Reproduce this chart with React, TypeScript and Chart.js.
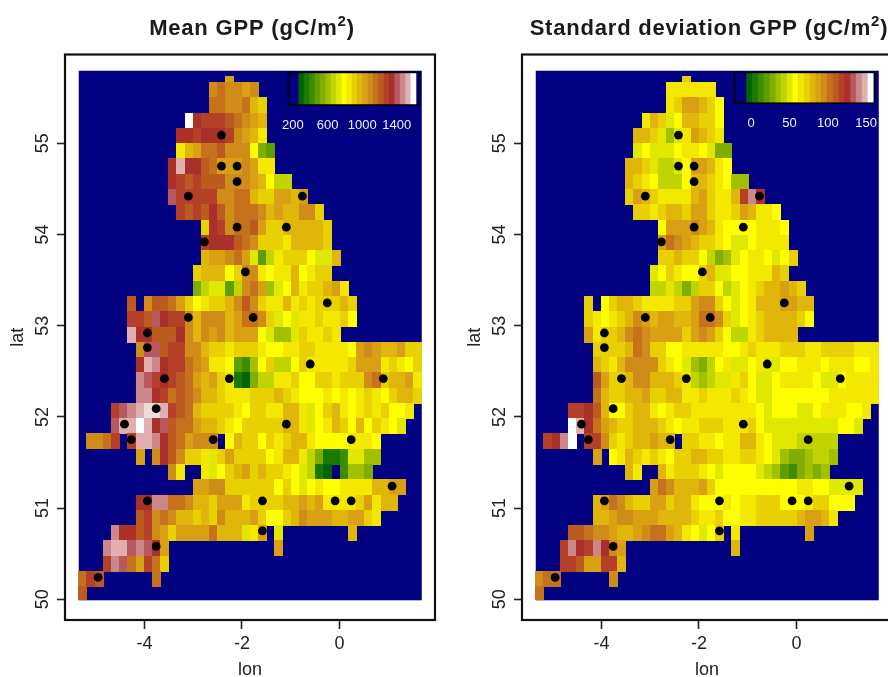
import React, { useEffect, useRef } from "react";
import { Chart, registerables } from "chart.js";

Chart.register(...registerables);

// Colour classes of the legend bar: 0 = sea, 1..22 = low to high, 23 = the pale tint between classes 21 and 22
const palette = [
  "#000080", "#006400", "#1a7a00", "#3d8c00", "#5f9e00", "#80ad00", "#a0c000", "#c0d400", "#e0e800",
  "#ffff00", "#f5e800", "#e9d000", "#e0b60a", "#d8a012", "#cf8c18", "#c6721c", "#bd5a20", "#b44028",
  "#aa302a", "#b85860", "#cc8888", "#e0b0b0", "#ffffff", "#eedcdc",
];
const LEGEND_BANDS = 22;

// [row, first column, classes]
const meanGrid: [number, number, number[]][] = [
  [0, 18, [13]],
  [1, 16, [14, 15, 14, 14, 13, 14]],
  [2, 16, [15, 15, 14, 14, 15, 12, 11]],
  [3, 13, [22, 18, 17, 17, 17, 16, 15, 14, 13, 12]],
  [4, 12, [18, 18, 17, 18, 18, 18, 17, 14, 13, 12, 10]],
  [5, 12, [10, 12, 13, 15, 15, 16, 14, 14, 14, 9, 5, 4]],
  [6, 11, [18, 21, 18, 18, 16, 15, 13, 13, 13, 14, 13, 10, 10]],
  [7, 11, [18, 17, 16, 17, 16, 16, 16, 14, 14, 14, 13, 12, 9, 7, 7]],
  [8, 11, [19, 17, 17, 17, 17, 17, 14, 14, 15, 15, 12, 11, 11, 13, 13, 12, 13]],
  [9, 12, [17, 16, 17, 16, 18, 16, 14, 15, 15, 15, 14, 12, 13, 12, 12, 14, 14, 11]],
  [10, 15, [11, 18, 17, 14, 15, 15, 16, 13, 11, 11, 12, 12, 12, 12, 12, 11]],
  [11, 15, [17, 18, 18, 18, 16, 15, 14, 11, 11, 11, 10, 12, 12, 12, 12, 11]],
  [12, 15, [12, 13, 13, 14, 15, 13, 8, 4, 7, 10, 11, 11, 11, 9, 8, 8, 12]],
  [13, 14, [11, 12, 12, 12, 9, 11, 14, 14, 10, 9, 10, 10, 12, 9, 10, 11, 11]],
  [14, 14, [5, 7, 8, 8, 4, 7, 14, 15, 13, 6, 8, 9, 12, 10, 11, 11, 12, 13, 10]],
  [15, 6, [16]],
  [15, 8, [14, 16, 16, 15, 13, 11, 9, 10, 11, 11, 12, 14, 16, 14, 11, 10, 10, 12, 10, 11, 10, 11, 11, 11, 12, 11]],
  [16, 6, [17, 17, 16, 19, 18, 17, 17, 14, 12, 14, 14, 14, 12, 13, 15, 15, 14, 11, 8, 9, 8, 10, 10, 11, 10, 10, 11, 9]],
  [17, 6, [21, 18, 18, 16, 16, 16, 18, 14, 12, 14, 13, 14, 12, 13, 13, 13, 9, 8, 6, 6, 8, 11, 10, 10, 11, 10]],
  [18, 7, [14, 19, 19, 16, 17, 17, 14, 14, 12, 11, 11, 10, 11, 11, 11, 10, 9, 9, 10, 10, 11, 11, 10, 10, 10, 10, 9, 13, 14, 13, 12, 12, 13, 11, 11]],
  [19, 7, [18, 21, 20, 18, 17, 17, 15, 14, 13, 10, 10, 9, 4, 3, 6, 9, 11, 7, 7, 9, 11, 10, 10, 10, 10, 10, 11, 13, 13, 13, 10, 11, 10, 9, 11]],
  [20, 7, [20, 19, 17, 18, 17, 16, 15, 13, 12, 13, 11, 10, 2, 1, 5, 7, 7, 10, 10, 11, 9, 9, 11, 11, 10, 11, 11, 11, 14, 15, 11, 12, 12, 13, 10]],
  [21, 7, [20, 20, 18, 17, 15, 16, 15, 14, 12, 12, 11, 10, 10, 10, 11, 11, 11, 12, 11, 10, 9, 9, 9, 10, 9, 10, 9, 10, 11, 10, 9, 11, 12, 12, 11]],
  [22, 4, [17, 19, 20, 21, 23, 23, 21, 17, 16, 15, 12, 11, 11, 11, 11, 10, 9, 11, 11, 10, 10, 12, 12, 10, 8, 9, 11, 12, 10, 9, 10, 11, 10, 11, 9, 9, 10]],
  [23, 4, [19, 21, 21, 22, 21, 18, 19, 16, 15, 15, 13, 12, 12, 11, 10, 9, 11, 11, 11, 11, 11, 12, 12, 10, 8, 9, 10, 12, 11, 9, 12, 9, 11, 10, 9, 8]],
  [24, 1, [14, 14, 15, 17]],
  [24, 6, [17, 21, 21, 20, 18, 16, 15, 13, 14, 14, 14]],
  [24, 18, [9, 12, 11, 11, 9, 11, 10, 11, 12, 12, 10, 9, 9, 9, 9, 10, 10, 10, 9]],
  [25, 7, [13]],
  [25, 9, [14, 18, 16, 14, 11, 11, 10, 8, 11, 13, 11, 11, 11, 11, 9, 10, 12, 12, 10, 7, 5, 2, 2, 3, 8, 8, 6, 6]],
  [26, 11, [14, 10]],
  [26, 15, [10, 8, 9, 11, 12, 13, 11, 12, 11, 11, 10, 9, 8, 7, 2, 1]],
  [26, 32, [3, 6, 6, 5]],
  [27, 14, [13, 13, 14, 14, 11, 11, 11, 11, 11, 11, 9, 11, 9, 8, 9, 10, 9, 9, 10, 10, 10, 10, 12, 12, 13, 13]],
  [28, 7, [18, 18, 20, 20, 15, 15, 14, 12, 12, 11, 13, 13, 13, 10, 11, 11, 11, 11, 12, 12, 13, 12, 13, 10, 10, 10, 10, 11, 13, 10, 12, 12]],
  [29, 7, [16, 17, 14, 15, 14, 12, 12, 11, 12, 11, 14, 12, 12, 12, 13, 11, 9, 9, 11, 12, 14, 13, 13, 13, 12, 12, 13, 13, 11, 10]],
  [30, 4, [20, 18, 18, 16, 17, 14, 13, 11, 13, 13, 13, 13, 15, 12, 12, 12, 8, 10, 13]],
  [30, 24, [8]],
  [30, 33, [12]],
  [31, 3, [20, 21, 21, 19, 20, 19, 18, 13]],
  [31, 24, [13]],
  [32, 3, [17, 20, 19, 15, 13, 17, 15, 11]],
  [33, 0, [15, 17, 16]],
  [33, 9, [15]],
  [34, 0, [16]],
];

const sdGrid: [number, number, number[]][] = [
  [0, 18, [11]],
  [1, 16, [10, 10, 10, 10, 10, 10]],
  [2, 16, [10, 11, 13, 13, 12, 11, 9]],
  [3, 13, [10, 12, 11, 8, 9, 12, 12, 11, 11, 9]],
  [4, 12, [12, 12, 11, 8, 6, 8, 10, 13, 12, 11, 10]],
  [5, 12, [8, 9, 8, 8, 8, 9, 10, 10, 9, 8, 5, 5]],
  [6, 11, [12, 12, 11, 8, 7, 7, 8, 9, 13, 13, 12, 10, 9]],
  [7, 11, [12, 11, 10, 9, 7, 7, 7, 9, 12, 12, 11, 10, 9, 6, 6]],
  [8, 11, [11, 13, 12, 11, 10, 10, 10, 10, 12, 13, 11, 10, 10, 12, 17, 20, 18]],
  [9, 12, [11, 11, 10, 11, 12, 12, 11, 13, 13, 11, 10, 10, 11, 13, 12, 10, 10, 9]],
  [10, 15, [9, 13, 13, 13, 14, 13, 12, 10, 9, 9, 9, 9, 10, 10, 10, 9]],
  [11, 15, [13, 15, 14, 13, 12, 11, 11, 10, 9, 8, 8, 9, 10, 10, 10, 10]],
  [12, 15, [11, 11, 12, 11, 11, 9, 7, 5, 6, 8, 9, 10, 10, 9, 8, 9, 11]],
  [13, 14, [8, 9, 11, 10, 9, 9, 11, 12, 8, 8, 9, 9, 10, 10, 10, 12, 11]],
  [14, 14, [7, 7, 8, 7, 5, 7, 11, 11, 9, 7, 8, 9, 10, 11, 12, 12, 13, 12, 11]],
  [15, 6, [11]],
  [15, 8, [9, 11, 12, 12, 11, 10, 10, 10, 10, 11, 11, 13, 14, 14, 11, 9, 8, 9, 10, 12, 12, 12, 13, 13, 12, 12]],
  [16, 6, [11, 10, 9, 10, 11, 12, 14, 13, 12, 13, 13, 12, 12, 13, 15, 15, 14, 11, 8, 9, 10, 11, 12, 12, 12, 12, 11, 9]],
  [17, 6, [13, 10, 11, 11, 12, 14, 15, 14, 13, 13, 13, 13, 11, 13, 14, 13, 11, 9, 7, 7, 10, 11, 12, 12, 12, 12]],
  [18, 7, [11, 11, 11, 11, 12, 15, 14, 11, 11, 9, 9, 10, 10, 10, 10, 10, 9, 9, 10, 11, 10, 10, 10, 11, 11, 11, 10, 10, 11, 11, 11, 11, 10, 10, 10]],
  [19, 7, [12, 11, 10, 12, 14, 14, 14, 14, 11, 10, 9, 8, 6, 5, 7, 9, 10, 8, 8, 9, 10, 8, 8, 9, 9, 10, 10, 10, 9, 10, 10, 10, 9, 9, 10]],
  [20, 7, [16, 13, 11, 11, 12, 14, 14, 12, 12, 12, 11, 10, 7, 6, 7, 8, 8, 10, 11, 9, 8, 8, 9, 10, 10, 10, 10, 9, 8, 8, 9, 10, 10, 10, 10]],
  [21, 7, [15, 12, 11, 11, 12, 12, 13, 11, 11, 12, 12, 10, 10, 11, 10, 10, 10, 11, 10, 9, 8, 8, 9, 9, 9, 9, 9, 9, 9, 10, 10, 10, 10, 10, 10]],
  [22, 4, [17, 17, 18, 16, 12, 9, 9, 11, 12, 12, 10, 9, 10, 11, 11, 10, 10, 10, 10, 10, 10, 10, 10, 9, 8, 9, 9, 9, 8, 8, 9, 10, 10, 10, 9, 9, 10]],
  [23, 4, [22, 21, 18, 15, 13, 12, 11, 11, 12, 12, 12, 11, 10, 9, 10, 10, 11, 11, 11, 10, 10, 10, 11, 9, 8, 8, 8, 8, 8, 8, 8, 8, 8, 9, 9, 8]],
  [24, 1, [17, 18, 20, 22]],
  [24, 6, [17, 17, 14, 11, 10, 11, 12, 12, 13, 12, 12]],
  [24, 18, [11, 11, 10, 10, 9, 10, 10, 12, 12, 10, 9, 8, 8, 8, 7, 7, 7, 7, 7]],
  [25, 7, [13]],
  [25, 9, [9, 10, 12, 11, 10, 11, 10, 9, 11, 11, 12, 12, 11, 11, 10, 10, 11, 11, 10, 9, 8, 6, 5, 5, 6, 7, 7, 6]],
  [26, 11, [12, 10]],
  [26, 15, [12, 10, 11, 11, 11, 10, 9, 8, 9, 9, 9, 9, 8, 7, 6, 4, 3, 5, 6, 5, 6]],
  [27, 14, [13, 15, 14, 12, 12, 12, 13, 11, 9, 9, 9, 9, 9, 9, 9, 9, 9, 9, 10, 10, 9, 9, 8, 8, 8, 8]],
  [28, 7, [12, 13, 15, 14, 12, 11, 11, 13, 13, 11, 12, 12, 10, 9, 9, 9, 10, 9, 10, 10, 11, 11, 11, 9, 9, 9, 10, 11, 11, 9, 9, 9]],
  [29, 7, [12, 12, 13, 14, 14, 13, 13, 13, 12, 12, 12, 12, 11, 10, 10, 11, 9, 9, 10, 10, 11, 11, 11, 11, 11, 12, 13, 13, 12, 10]],
  [30, 4, [16, 16, 15, 14, 14, 13, 12, 12, 13, 14, 15, 15, 13, 12, 10, 9, 8, 9, 11]],
  [30, 24, [10]],
  [30, 33, [13]],
  [31, 3, [17, 20, 18, 17, 20, 18, 14, 13]],
  [31, 24, [12]],
  [32, 3, [17, 17, 16, 13, 13, 17, 17, 12]],
  [33, 0, [14, 15, 15]],
  [33, 9, [14]],
  [34, 0, [15]],
];

const stationLon = [-2.42, -2.42, -2.1, -2.1, -3.1, -0.76, -2.1, -1.09, -2.77, -1.93, -0.25, -3.1, -1.77, -3.94, -3.94, -0.6, -3.59, -2.26, 0.9, -3.76, -4.41, -1.09, -4.27, -2.59, 0.24, 1.08, -3.94, -1.58, -0.09, 0.24, -1.58, -3.76, -4.95];
const stationLat = [55.09, 54.75, 54.75, 54.58, 54.42, 54.42, 54.08, 54.08, 53.92, 53.59, 53.25, 53.09, 53.09, 52.92, 52.76, 52.58, 52.42, 52.42, 52.42, 52.09, 51.92, 51.92, 51.75, 51.75, 51.75, 51.24, 51.08, 51.08, 51.08, 51.08, 50.75, 50.58, 50.24];

const lonTicks = [-4, -2, 0];
const latTicks = [50, 51, 52, 53, 54, 55];
const meanLegendTicks = [200, 600, 1000, 1400];
const sdLegendTicks = [0, 50, 100, 150];

// Geometry of the raster, in degrees
const LON0 = -5.348, DLON = 0.16754;
const LAT_ROW1 = 55.669, DLAT = 0.1676, LAT_CAP = 55.735, LAT_TOP = 55.796, LAT_BOT = 49.989;

function buildCells(grid: [number, number, number[]][]) {
  const out: any[] = [];
  grid.forEach(([r, c0, vals]) => {
    vals.forEach((v, i) => {
      let top = LAT_ROW1 - (r - 1) * DLAT;
      let bot = top - DLAT;
      if (r === 0) { top = LAT_CAP; bot = LAT_ROW1; }
      if (bot < LAT_BOT) bot = LAT_BOT;
      out.push({ x: LON0 + (c0 + i + 0.5) * DLON, y: (top + bot) / 2, h: top - bot, v });
    });
  });
  return out;
}

const sprites: Record<string, HTMLCanvasElement> = {};
function sprite(color: string, w: number, h: number) {
  const key = color + w + "x" + h;
  if (!sprites[key]) {
    const c = document.createElement("canvas");
    c.width = w; c.height = h;
    const g = c.getContext("2d")!;
    g.fillStyle = color;
    g.fillRect(0, 0, w, h);
    sprites[key] = c;
  }
  return sprites[key];
}

type LegendCfg = {
  lonFrame: [number, number]; lonColor: [number, number]; latFrame: [number, number]; latLabel: number;
  ticks: number[]; tickLon: [number, number];
};

const meanLegend: LegendCfg = {
  lonFrame: [-1.045, 1.631], lonColor: [-0.84, 1.566], latFrame: [55.778, 55.42], latLabel: 55.2,
  ticks: meanLegendTicks, tickLon: [-0.955, 1.176],
};
const sdLegend: LegendCfg = {
  lonFrame: [-1.27, 1.6], lonColor: [-1.03, 1.578], latFrame: [55.778, 55.44], latLabel: 55.22,
  ticks: sdLegendTicks, tickLon: [-0.928, 1.428],
};

function panelPlugin(cfg: LegendCfg, titleMain: string) {
  return {
    id: "panel",
    beforeDatasetsDraw(chart: any) {
      const { x, y } = chart.scales;
      const g = chart.ctx;
      const l = x.getPixelForValue(LON0);
      const r = x.getPixelForValue(LON0 + 42 * DLON);
      const t = y.getPixelForValue(LAT_TOP);
      const b = y.getPixelForValue(LAT_BOT);
      g.save();
      g.fillStyle = palette[0];
      g.fillRect(l, t, r - l, b - t);
      g.restore();
    },
    afterDatasetsDraw(chart: any) {
      const { x, y } = chart.scales;
      const a = chart.chartArea;
      const g = chart.ctx;
      g.save();
      // legend bar
      const fl = x.getPixelForValue(cfg.lonFrame[0]);
      const fr = x.getPixelForValue(cfg.lonFrame[1]);
      const ft = y.getPixelForValue(cfg.latFrame[0]);
      const fb = y.getPixelForValue(cfg.latFrame[1]);
      const cl = x.getPixelForValue(cfg.lonColor[0]);
      const cr = x.getPixelForValue(cfg.lonColor[1]);
      const n = LEGEND_BANDS;
      for (let i = 1; i <= n; i++) {
        g.fillStyle = palette[i];
        g.fillRect(cl + ((i - 1) * (cr - cl)) / n, ft, (cr - cl) / n + 0.5, fb - ft);
      }
      g.strokeStyle = "#000";
      g.lineWidth = 1.6;
      g.strokeRect(fl, ft, fr - fl, fb - ft);
      // legend labels
      g.letterSpacing = "0px";
      g.fillStyle = "#f2f3fc";
      g.font = "13px 'Liberation Sans'";
      g.textAlign = "center";
      g.textBaseline = "middle";
      const t0 = cfg.ticks[0];
      const t1 = cfg.ticks[cfg.ticks.length - 1];
      cfg.ticks.forEach((tv) => {
        const lon = cfg.tickLon[0] + ((tv - t0) / (t1 - t0)) * (cfg.tickLon[1] - cfg.tickLon[0]);
        g.fillText(String(tv), x.getPixelForValue(lon), y.getPixelForValue(cfg.latLabel));
      });
      // box
      g.strokeStyle = "#111";
      g.lineWidth = 2.2;
      g.strokeRect(a.left, a.top, a.right - a.left, a.bottom - a.top);
      // title with a raised exponent
      g.letterSpacing = "0.8px";
      g.fillStyle = "#1a1a1a";
      g.textAlign = "left";
      g.textBaseline = "middle";
      const big = "bold 22px 'Liberation Sans'";
      const small = "bold 15px 'Liberation Sans'";
      g.font = big;
      const w1 = g.measureText(titleMain).width;
      const w3 = g.measureText(")").width;
      g.font = small;
      const w2 = g.measureText("2").width;
      let tx = (a.left + a.right) / 2 + 2 - (w1 + w2 + w3) / 2;
      const ty = 29;
      g.font = big;
      g.fillText(titleMain, tx, ty);
      tx += w1;
      g.font = small;
      g.fillText("2", tx, ty - 7);
      tx += w2;
      g.font = big;
      g.fillText(")", tx, ty);
      g.restore();
    },
  };
}

function makeChart(canvas: HTMLCanvasElement, titleMain: string, grid: [number, number, number[]][], legend: LegendCfg) {
  const tickFont = { family: "'Liberation Sans'", size: 18 };
  const labelFont = { family: "'Liberation Sans'", size: 18 };
  (canvas.getContext("2d") as any).letterSpacing = "0.5px";
  return new Chart(canvas, {
    type: "scatter",
    data: {
      datasets: [
        {
          label: "stations",
          data: stationLon.map((lon, i) => ({ x: lon, y: stationLat[i] })),
          pointRadius: 4.4,
          pointBackgroundColor: "#000",
          pointBorderWidth: 0,
          order: 0,
        },
        {
          label: titleMain + "2)",
          data: buildCells(grid),
          order: 1,
          pointRadius: 1,
          pointStyle: (ctx: any) => {
            const raw = ctx.raw;
            if (!raw) return "rect";
            const { x, y } = ctx.chart.scales;
            const w = Math.ceil(Math.abs(x.getPixelForValue(DLON) - x.getPixelForValue(0)));
            const h = Math.max(2, Math.ceil(Math.abs(y.getPixelForValue(0) - y.getPixelForValue(raw.h))));
            return sprite(palette[raw.v], w, h);
          },
        } as any,
      ],
    },
    options: {
      responsive: false,
      animation: false,
      events: [],
      layout: { padding: { left: 0, right: 9, top: 54.5, bottom: 0 } },
      plugins: {
        legend: { display: false },
        tooltip: { enabled: false },
        title: { display: false },
      },
      scales: {
        x: {
          type: "linear",
          min: -5.63,
          max: 1.96,
          afterBuildTicks: (s: any) => { s.ticks = lonTicks.map((value) => ({ value })); },
          afterFit: (s: any) => { s.height = 80; },
          grid: { drawOnChartArea: false, drawTicks: true, tickLength: 9, tickWidth: 1.6, tickColor: "#222" },
          border: { display: false },
          ticks: { color: "#222", font: tickFont, padding: 4, maxRotation: 0, autoSkip: false, callback: (v: any) => String(v) },
          title: { display: true, text: "lon", color: "#222", font: labelFont, padding: { top: 0, bottom: 19.5 } },
        },
        y: {
          type: "linear",
          min: 49.773,
          max: 55.974,
          afterBuildTicks: (s: any) => { s.ticks = latTicks.map((value) => ({ value })); },
          afterFit: (s: any) => { s.width = 65; },
          grid: { drawOnChartArea: false, drawTicks: true, tickLength: 8, tickWidth: 1.6, tickColor: "#222" },
          border: { display: false },
          ticks: { color: "#222", font: tickFont, padding: 4, minRotation: 90, maxRotation: 90, crossAlign: "center", autoSkip: false, callback: (v: any) => String(v) },
          title: { display: true, text: "lat", color: "#222", font: labelFont, padding: { top: 7, bottom: 0 } },
        },
      },
    } as any,
    plugins: [panelPlugin(legend, titleMain)],
  } as any);
}

export default function App() {
  const leftRef = useRef<HTMLCanvasElement>(null);
  const rightRef = useRef<HTMLCanvasElement>(null);
  useEffect(() => {
    const a = makeChart(leftRef.current!, "Mean GPP (gC/m", meanGrid, meanLegend);
    const b = makeChart(rightRef.current!, "Standard deviation GPP (gC/m", sdGrid, sdLegend);
    return () => { a.destroy(); b.destroy(); };
  }, []);
  const cv: React.CSSProperties = { position: "absolute", top: 0, filter: "blur(0.5px)" };
  return (
    <div style={{ position: "absolute", left: 0, top: 0, width: 888, height: 677, overflow: "hidden", background: "#fff" }}>
      <canvas ref={leftRef} width={444} height={700} style={{ ...cv, left: 0, width: 444, height: 700 }} />
      <canvas ref={rightRef} width={444} height={700} style={{ ...cv, left: 457, width: 444, height: 700 }} />
    </div>
  );
}
